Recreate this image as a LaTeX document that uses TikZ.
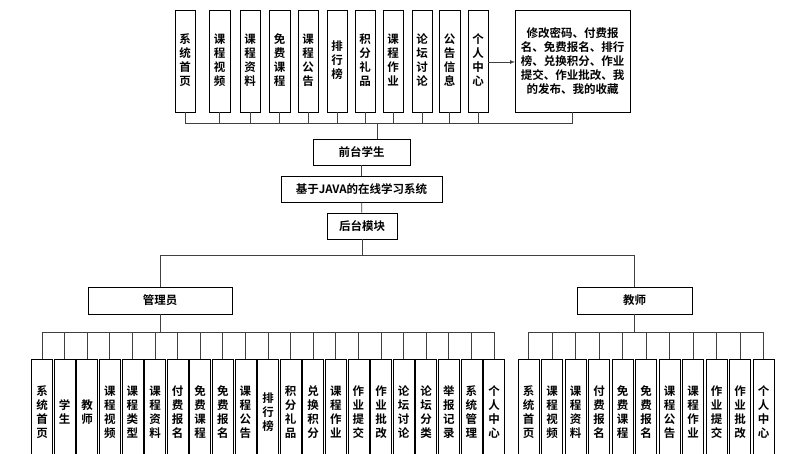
\documentclass[tikz,border=0pt]{standalone}
\usepackage{fontspec}
\newfontfamily\cjk{Noto Sans CJK SC}[BoldFont={Noto Sans CJK SC Bold}]
\begin{document}
\begin{tikzpicture}[x=1pt,y=-1pt,
  every node/.style={font=\cjk\bfseries\fontsize{11.5}{14}\selectfont, inner sep=0pt},
  box/.style={draw, line width=0.7pt},
  ln/.style={line width=0.7pt, draw=black!75}]
\useasboundingbox (0,0) rectangle (802,454);
\clip (0,0) rectangle (802,454);
% top modules
\foreach \i/\xa/\xb/\t in {1/175/195/{系\\统\\首\\页},2/209/230/{课\\程\\视\\频},3/240/260/{课\\程\\资\\料},4/269/290/{免\\费\\课\\程},5/298/318/{课\\程\\公\\告},6/327/347/{排\\行\\榜},7/355/375/{积\\分\\礼\\品},8/383/403/{课\\程\\作\\业},9/412/432/{论\\坛\\讨\\论},10/439/460/{公\\告\\信\\息},11/468/488/{个\\人\\中\\心}}{
  \draw[box] (\xa,10) rectangle (\xb,112);
  \node[align=center] (t\i) at ({(\xa+\xb)/2},60) {\t};
  \coordinate (tb\i) at ({(\xa+\xb)/2},112);
}
\draw[box] (515,10) rectangle (630,112);
\node[align=center] (big) at (572.5,61) {修改密码、付费报\\名、免费报名、排行\\榜、兑换积分、作业\\提交、作业批改、我\\的发布、我的收藏};
\coordinate (bigb) at (572.5,112);
\coordinate (bigl) at (515,62);
\draw[ln,-latex] (488,62) -- (bigl);
\coordinate (tbus) at (377,123);
\foreach \i in {1,...,11}{\draw[ln] (tb\i) -- (tb\i |- tbus);}
\draw[ln] (bigb) -- (bigb |- tbus);
\draw[ln] (tb1 |- tbus) -- (bigb |- tbus);
% center column
\node[box, minimum width=97pt, minimum height=26pt] (qt) at (361.5,152) {前台学生};
\node[box, minimum width=161pt, minimum height=26pt] (sys) at (361.5,189) {基于JAVA的在线学习系统};
\node[box, minimum width=70pt, minimum height=26pt] (ht) at (362,226) {后台模块};
\draw[ln] (tbus) -- (qt.north -| tbus);
\draw[ln] (qt) -- (sys);
\draw[ln] (sys) -- (ht);
\coordinate (hbus) at (362,255);
\draw[ln] (ht.south) -- (hbus);
\node[box, minimum width=144pt, minimum height=27pt] (adm) at (160,300.5) {管理员};
\node[box, minimum width=115pt, minimum height=27pt] (tea) at (634.5,300.5) {教师};
\draw[ln] (adm.north) -- (adm.north |- hbus) -- (tea.north |- hbus) -- (tea.north);
% admin children
\coordinate (abus) at (160,332);
\draw[ln] (adm.south) -- (abus);
\foreach[count=\i from 0] \t in {{系\\统\\首\\页},{学\\生},{教\\师},{课\\程\\视\\频},{课\\程\\类\\型},{课\\程\\资\\料},{付\\费\\报\\名},{免\\费\\课\\程},{免\\费\\报\\名},{课\\程\\公\\告},{排\\行\\榜},{积\\分\\礼\\品},{兑\\换\\积\\分},{课\\程\\作\\业},{作\\业\\提\\交},{作\\业\\批\\改},{论\\坛\\讨\\论},{论\\坛\\分\\类},{举\\报\\记\\录},{系\\统\\管\\理},{个\\人\\中\\心}}{
  \pgfmathsetmacro\cx{42+\i*22.6}
  \draw[box] (\cx-10.5,359) rectangle (\cx+10.5,470);
  \node[align=center] (a\i) at (\cx,412) {\t};
  \draw[ln] (\cx,332) -- (\cx,359);
}
\draw[ln] (42,332) -- (494,332);
% teacher children
\coordinate (tbus2) at (634.5,332);
\draw[ln] (tea.south) -- (tbus2);
\foreach[count=\i from 0] \t in {{系\\统\\首\\页},{课\\程\\视\\频},{课\\程\\资\\料},{付\\费\\报\\名},{免\\费\\课\\程},{免\\费\\报\\名},{课\\程\\公\\告},{课\\程\\作\\业},{作\\业\\提\\交},{作\\业\\批\\改},{个\\人\\中\\心}}{
  \pgfmathsetmacro\cx{528.5+\i*23.5}
  \draw[box] (\cx-10.5,359) rectangle (\cx+10.5,470);
  \node[align=center] (e\i) at (\cx,412) {\t};
  \draw[ln] (\cx,332) -- (\cx,359);
}
\draw[ln] (528.5,332) -- (763.5,332);
\end{tikzpicture}
\end{document}
